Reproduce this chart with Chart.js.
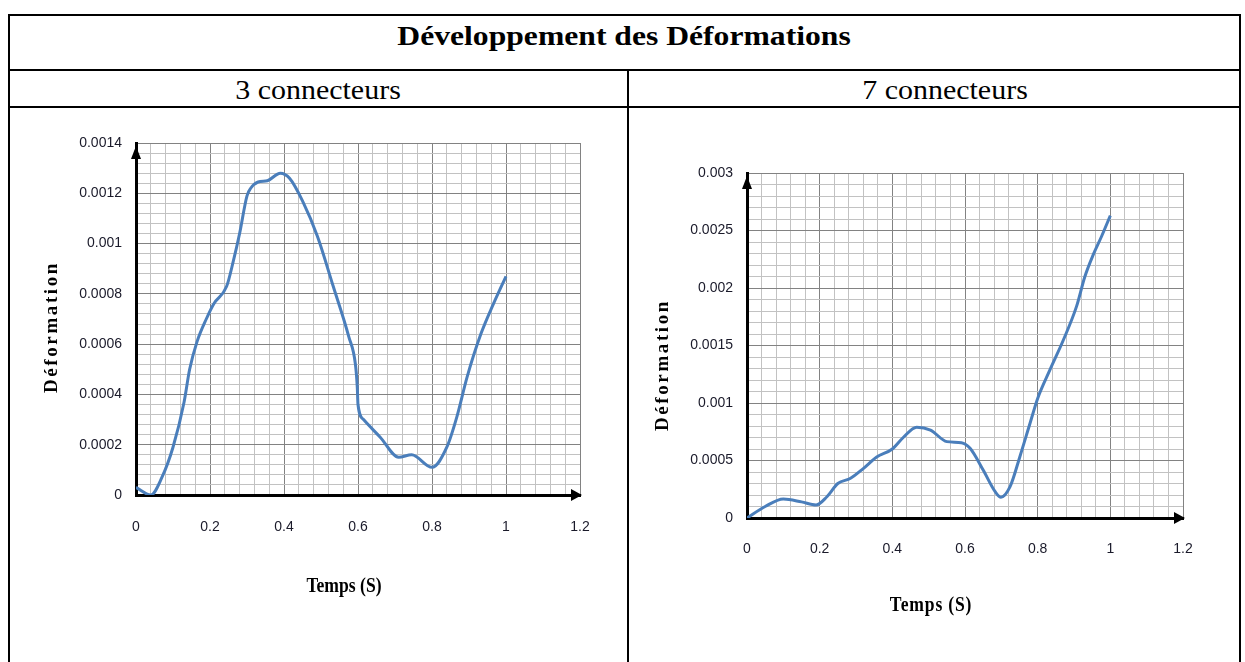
<!DOCTYPE html>
<html>
<head>
<meta charset="utf-8">
<script src="https://cdn.jsdelivr.net/npm/chart.js@4.4.0/dist/chart.umd.min.js"></script>
<style>
  html, body { margin: 0; padding: 0; background: #fff; }
  body { width: 1245px; height: 662px; position: relative; overflow: hidden;
         font-family: "Liberation Serif", "Times New Roman", serif; color: #000; }
  .rule { position: absolute; background: #000; }
  .txt { position: absolute; white-space: nowrap; line-height: 1; transform: translateX(-50%) scaleX(1.11); }
  canvas { position: absolute; }
</style>
</head>
<body>
<!-- table frame -->
<div class="rule" style="left:8px;top:14px;width:1233px;height:2px"></div>
<div class="rule" style="left:8px;top:69px;width:1233px;height:2px"></div>
<div class="rule" style="left:8px;top:106px;width:1233px;height:2px"></div>
<div class="rule" style="left:8px;top:14px;width:2px;height:648px"></div>
<div class="rule" style="left:1239px;top:14px;width:2px;height:648px"></div>
<div class="rule" style="left:627px;top:69px;width:2px;height:593px"></div>

<div class="txt" style="left:624px;top:22px;font-size:28px;font-weight:bold;transform:translateX(-50%) scaleX(1.13)">Développement des Déformations</div>
<div class="txt" style="left:318px;top:77px;font-size:27px">3 connecteurs</div>
<div class="txt" style="left:945px;top:77px;font-size:27px">7 connecteurs</div>

<canvas id="c3" width="615" height="553" style="left:11px;top:109px"></canvas>
<canvas id="c7" width="608" height="553" style="left:630px;top:109px"></canvas>

<script>
// Axis tick labels
const xTickLabels = ['0', '0.2', '0.4', '0.6', '0.8', '1', '1.2'];
const yTickLabels3 = ['0', '0.0002', '0.0004', '0.0006', '0.0008', '0.001', '0.0012', '0.0014'];
const yTickLabels7 = ['0', '0.0005', '0.001', '0.0015', '0.002', '0.0025', '0.003'];

// 3 connecteurs : temps (s) / déformation
const temps3 = [0, 0.04, 0.07, 0.1, 0.13, 0.145, 0.165, 0.19, 0.21, 0.245, 0.263, 0.28, 0.3, 0.31,
                0.33, 0.355, 0.39, 0.415, 0.45, 0.49, 0.533, 0.575, 0.593, 0.598, 0.6, 0.615,
                0.66, 0.71, 0.745, 0.8, 0.84, 0.867, 0.895, 0.932, 0.966, 1.0];
const def3 = [0.00003, 0.0, 0.00007, 0.00019, 0.00037, 0.0005, 0.00061, 0.0007, 0.00076, 0.00083,
              0.00093, 0.00104, 0.00119, 0.00122, 0.001245, 0.00125, 0.00128, 0.00126, 0.00117,
              0.00103, 0.00083, 0.00063, 0.00052, 0.00043, 0.00036, 0.0003, 0.00023, 0.00015,
              0.00016, 0.00011, 0.00019, 0.00031, 0.00047, 0.00064, 0.00076, 0.00087];

// 7 connecteurs : temps (s) / déformation
const temps7 = [0, 0.05, 0.1, 0.15, 0.19, 0.22, 0.25, 0.285, 0.32, 0.357, 0.4, 0.43, 0.467, 0.505,
                0.55, 0.59, 0.614, 0.65, 0.683, 0.699, 0.724, 0.751, 0.779, 0.8, 0.834, 0.871,
                0.907, 0.93, 0.953, 0.976, 1.0];
const def7 = [0, 0.0001, 0.000165, 0.00014, 0.000113, 0.000185, 0.0003, 0.000345, 0.00043, 0.00053,
              0.0006, 0.0007, 0.00079, 0.000765, 0.000664, 0.000655, 0.000606, 0.000417, 0.000229,
              0.00018, 0.000272, 0.000533, 0.000824, 0.00104, 0.00129, 0.00155, 0.00184, 0.0021,
              0.00229, 0.00245, 0.00263];

const MINOR_DIV = 5;
const LINE_BLUE = '#4a7ebb';
const TICK_FONT = { family: "'Liberation Sans', Arial, sans-serif", size: 14 };
const TICK_COLOR = '#1a1a2a';

// major ticks carry a label, minor ones only draw a light grid line
function gridTicks(labels) {
  const ticks = [];
  for (let i = 0; i < labels.length; i++) {
    const v = Number(labels[i]);
    ticks.push({ value: v, lbl: labels[i] });
    if (i < labels.length - 1) {
      const next = Number(labels[i + 1]);
      for (let k = 1; k < MINOR_DIV; k++) {
        ticks.push({ value: v + (next - v) * k / MINOR_DIV, lbl: '' });
      }
    }
  }
  return ticks;
}

const gridColor = ctx => (ctx.tick && ctx.tick.lbl) ? '#828282' : '#c2c2c2';

// arrow heads on the axes and the axis titles
const decor = {
  id: 'decor',
  afterDatasetsDraw(chart, args, o) {
    const { ctx, chartArea: a } = chart;
    ctx.save();
    ctx.fillStyle = '#000';
    ctx.beginPath();
    ctx.moveTo(a.right + 2, a.bottom);
    ctx.lineTo(a.right - 9, a.bottom - 6);
    ctx.lineTo(a.right - 9, a.bottom + 6);
    ctx.closePath();
    ctx.fill();
    ctx.beginPath();
    ctx.moveTo(a.left, a.top + 3);
    ctx.lineTo(a.left - 5, a.top + 16);
    ctx.lineTo(a.left + 5, a.top + 16);
    ctx.closePath();
    ctx.fill();

    ctx.fillStyle = '#000';
    ctx.textAlign = 'center';
    ctx.textBaseline = 'middle';
    // vertical title
    ctx.save();
    ctx.translate(o.yTitle.x, o.yTitle.y);
    ctx.rotate(-Math.PI / 2);
    ctx.font = "bold 19px 'Liberation Serif', serif";
    if ('letterSpacing' in ctx) ctx.letterSpacing = '2.6px';
    ctx.fillText(o.yTitle.text, 0, 0);
    ctx.restore();
    // horizontal title
    ctx.save();
    ctx.translate(o.xTitle.x, o.xTitle.y);
    ctx.scale(0.8, 1);
    ctx.font = "bold 22px 'Liberation Serif', serif";
    if ('letterSpacing' in ctx) ctx.letterSpacing = o.xTitle.spacing || '0px';
    ctx.fillText(o.xTitle.text, 0, 0);
    ctx.restore();
    ctx.restore();
  }
};

function makeChart(id, temps, defs, yLabels, geo) {
  const yMax = Number(yLabels[yLabels.length - 1]);
  const xMax = Number(xTickLabels[xTickLabels.length - 1]);
  return new Chart(document.getElementById(id), {
    type: 'scatter',
    data: {
      datasets: [{
        data: temps.map((t, i) => ({ x: t, y: defs[i] })),
        showLine: true,
        borderColor: LINE_BLUE,
        borderWidth: 3,
        pointRadius: 0,
        cubicInterpolationMode: 'monotone',
        fill: false
      }]
    },
    options: {
      responsive: false,
      animation: false,
      layout: { padding: { top: geo.top, right: geo.right, left: 0, bottom: 0 } },
      plugins: {
        legend: { display: false },
        tooltip: { enabled: false },
        decor: { yTitle: geo.yTitle, xTitle: geo.xTitle }
      },
      scales: {
        x: {
          type: 'linear', min: 0, max: xMax,
          afterBuildTicks: s => { s.ticks = gridTicks(xTickLabels); },
          afterFit: s => { s.height = geo.xHeight; },
          ticks: {
            autoSkip: false, maxRotation: 0, minRotation: 0, padding: geo.xPad,
            font: TICK_FONT, color: TICK_COLOR,
            callback: (v, i, ticks) => ticks[i].lbl
          },
          grid: { drawTicks: false, color: gridColor, lineWidth: 1 },
          border: { display: true, color: '#000', width: 3 }
        },
        y: {
          type: 'linear', min: 0, max: yMax,
          afterBuildTicks: s => { s.ticks = gridTicks(yLabels); },
          afterFit: s => { s.width = geo.yWidth; },
          ticks: {
            autoSkip: false, padding: 14,
            font: TICK_FONT, color: TICK_COLOR,
            callback: (v, i, ticks) => ticks[i].lbl
          },
          grid: { drawTicks: false, color: gridColor, lineWidth: 1 },
          border: { display: true, color: '#000', width: 3 }
        }
      }
    },
    plugins: [decor]
  });
}

makeChart('c3', temps3, def3, yTickLabels3, {
  top: 34, right: 46, yWidth: 125, xHeight: 167, xPad: 24,
  yTitle: { text: 'Déformation', x: 41, y: 218 },
  xTitle: { text: 'Temps (S)', x: 333, y: 477 }
});

makeChart('c7', temps7, def7, yTickLabels7, {
  top: 64, right: 55, yWidth: 117, xHeight: 144, xPad: 23,
  yTitle: { text: 'Déformation', x: 33, y: 256 },
  xTitle: { text: 'Temps (S)', x: 301, y: 496, spacing: '1px' }
});
</script>
</body>
</html>
